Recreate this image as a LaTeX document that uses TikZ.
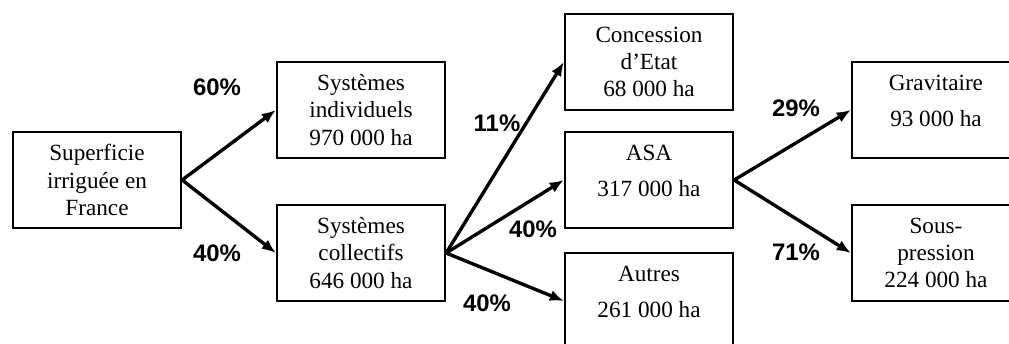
\documentclass[tikz,border=0pt]{standalone}
\usepackage{fontspec}
\setmainfont{Liberation Serif}
\setsansfont{Liberation Sans}
\usetikzlibrary{arrows.meta,positioning}

\begin{document}
\begin{tikzpicture}[x=0.025cm,y=-0.025cm,
    boite/.style={draw,line width=1.6pt,minimum width=4.2cm,minimum height=2.4cm,align=center,inner sep=2pt,font=\fontsize{16.5}{19.5}\selectfont},
    haut/.style={text depth=0.45cm},
    pct/.style={font=\fontsize{17}{17}\selectfont\sffamily\bfseries},
    fleche/.style={-{Latex[length=10pt,width=8pt]},line width=2.4pt}]
		\useasboundingbox (0,0) rectangle (1009,343);
		\node[boite] (sup) at (97,180) {Superficie\\irriguée en\\France};
		\node[boite] (ind) at (361,110) {Systèmes\\individuels\\970 000 ha};
		\node[boite] (col) at (361,253) {Systèmes\\collectifs\\646 000 ha};
		\node[boite] (conc) at (649,62) {Concession\\d’Etat\\68 000 ha};
		\node[boite,haut] (asa) at (649,180) {ASA\\[6pt]317 000 ha};
		\node[boite,haut] (autres) at (649,301) {Autres\\[6pt]261 000 ha};
		\node[boite,haut] (grav) at (936,110) {Gravitaire\\[6pt]93 000 ha};
		\node[boite] (sous) at (936,253) {Sous-\\pression\\224 000 ha};
		
		\node[pct] (p60) at (217,87) {60\%};
		\node[pct] (p40a) at (217,253) {40\%};
		\node[pct] (p11) at (497,123) {11\%};
		\node[pct] (p40b) at (533,229) {40\%};
		\node[pct] (p40c) at (487,303) {40\%};
		\node[pct] (p29) at (796,108) {29\%};
		\node[pct] (p71) at (796,252) {71\%};
		
		\foreach \f/\t in {sup/ind,sup/col,col/conc,col/asa,col/autres,asa/grav,asa/sous}{
			\draw[fleche] (\f.east) -- (\t.west);
		}
	\end{tikzpicture}
\end{document}
